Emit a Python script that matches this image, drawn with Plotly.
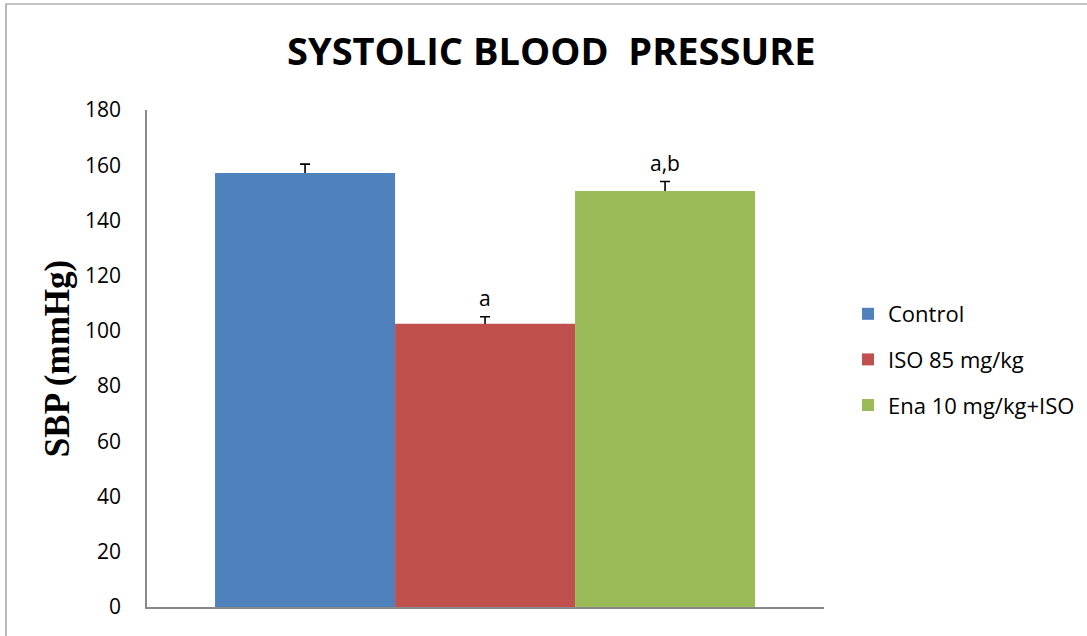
import plotly.graph_objects as go

groups = ["Control", "ISO 85 mg/kg", "Ena 10 mg/kg+ISO"]
sbp_mean = [157.2, 102.6, 150.7]
sbp_err = [3.2, 2.5, 3.4]
sig_labels = ["", "a", "a,b"]
colors = ["#4F81BD", "#C0504D", "#9BBB59"]
y_ticks = [0, 20, 40, 60, 80, 100, 120, 140, 160, 180]

W, H = 1087, 636
L, R, T, B = 147, 263, 110, 29
pw, ph = W - L - R, H - T - B

fig = go.Figure()
# transparent bar trace carrying the error bars, drawn first so the coloured
# bars cover the lower half (only the upward part shows)
fig.add_trace(go.Bar(
    x=groups, y=sbp_mean, width=1.0, showlegend=False, hoverinfo="skip",
    marker=dict(color="rgba(0,0,0,0)", line=dict(width=0)),
    error_y=dict(type="data", symmetric=True, array=sbp_err,
                 color="black", thickness=1.6, width=5),
))
for i, g in enumerate(groups):
    fig.add_trace(go.Bar(
        x=[g], y=[sbp_mean[i]], name=g, width=1.0,
        marker=dict(color=colors[i], line=dict(width=0)),
        legendgroup=g,
    ))
    if sig_labels[i]:
        fig.add_annotation(x=g, y=sbp_mean[i] + sbp_err[i], text=sig_labels[i],
                           showarrow=False, yanchor="bottom", yshift=3,
                           font=dict(family="Open Sans", size=21, color="black"))

fig.add_annotation(text="<b>SYSTOLIC BLOOD  PRESSURE</b>", xref="paper", yref="paper",
                   x=(551 - L) / pw, y=(607 - 50) / ph, xanchor="center", yanchor="middle",
                   showarrow=False, font=dict(family="Open Sans", size=38, color="black"))

fig.add_shape(type="rect", xref="paper", yref="paper",
              x0=(6 - L) / pw, x1=(1100 - L) / pw, y0=(607 - 650) / ph, y1=(607 - 4) / ph,
              line=dict(color="#8C8C8C", width=1.2), fillcolor="rgba(0,0,0,0)", layer="below")

fig.update_layout(
    width=W, height=H,
    margin=dict(l=L, r=R, t=T, b=B, autoexpand=False),
    paper_bgcolor="white", plot_bgcolor="white",
    barmode="overlay",
    showlegend=True,
    legend=dict(x=(848 - L) / pw, y=(607 - 293) / ph, xanchor="left", yanchor="top",
                font=dict(family="Open Sans", size=22, color="black"),
                tracegroupgap=14, itemwidth=30, bgcolor="rgba(0,0,0,0)"),
    xaxis=dict(type="category", range=[-0.878, 2.883], showticklabels=False,
               showline=True, linecolor="#898989", linewidth=1.6, ticks="",
               showgrid=False, zeroline=False, fixedrange=True),
    yaxis=dict(range=[0, 180], tickvals=y_ticks, showline=True, linecolor="#898989",
               linewidth=1.6, ticks="", showgrid=False, zeroline=False,
               ticklabelstandoff=20,
               tickfont=dict(family="Open Sans", size=21, color="black"),
               title=dict(text="<b>SBP (mmHg)</b>", standoff=5,
                          font=dict(family="Liberation Serif", size=35, color="black"))),
)

fig.write_html("out.html", config={"displayModeBar": False},
               post_script="document.body.style.margin='0px';")
